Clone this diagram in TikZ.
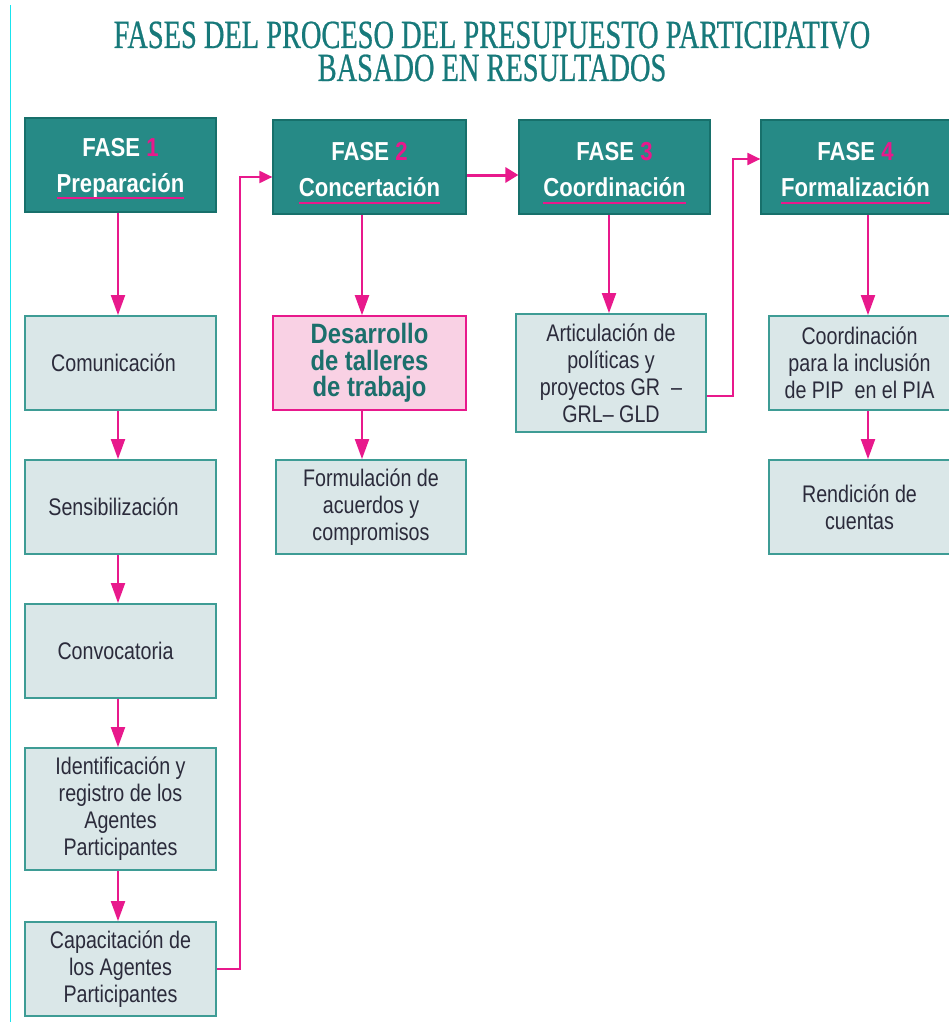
\documentclass[tikz,border=0pt]{standalone}
\usepackage{fontspec}
\setmainfont{Liberation Sans}
\newfontfamily\narrowfont[FakeStretch=0.82]{Liberation Sans}
\newfontfamily\headfont[FakeStretch=0.85]{Liberation Sans}
\newfontfamily\titlefont[FakeStretch=0.71,FakeBold=0.6]{Liberation Serif}
\usetikzlibrary{arrows.meta}
\definecolor{tealfill}{HTML}{268A86}
\definecolor{tealdark}{HTML}{17706B}
\definecolor{titleteal}{HTML}{17797A}
\definecolor{pinkc}{HTML}{E8198C}
\definecolor{lightbox}{HTML}{DAE7E8}
\definecolor{lightborder}{HTML}{3E9C95}
\definecolor{pinkfill}{HTML}{F9D1E4}
\definecolor{boxtext}{HTML}{2B2B3B}
\definecolor{desartext}{HTML}{1C6F6C}
\definecolor{cyanline}{HTML}{19E3EE}
\newcommand\pinkul[1]{\setbox0\hbox{#1}\leavevmode\rlap{\copy0}\smash{\raisebox{-7pt}{\textcolor{pinkc}{\rule{\wd0}{2pt}}}}}
\tikzset{
  phasebox/.style={draw=tealdark, line width=1.2pt, fill=tealfill, text=white,
    align=center, inner sep=0pt,
    font=\headfont\bfseries\fontsize{26}{36}\selectfont},
  lightnode/.style={draw=lightborder, line width=1.8pt, fill=lightbox, text=boxtext,
    align=center, inner sep=0pt,
    font=\narrowfont\fontsize{24}{27}\selectfont},
  pinknode/.style={draw=pinkc, line width=1.6pt, fill=pinkfill, text=desartext,
    align=center, inner sep=0pt,
    font=\headfont\bfseries\fontsize{28}{26.5}\selectfont},
  titletext/.style={font=\titlefont\fontsize{40}{40}\selectfont, text=titleteal,
    anchor=base, inner sep=0pt, text height=26pt, text depth=0pt},
  conn/.style={draw=pinkc, line width=2pt, -{Triangle[length=20pt,width=14pt]}},
  connsmall/.style={draw=pinkc, line width=2pt, -{Triangle[length=13pt,width=12pt]}},
  connthick/.style={draw=pinkc, line width=3pt, -{Triangle[length=13pt,width=15pt]}}
}
\begin{document}
\begin{tikzpicture}[x=1pt,y=-1pt]
\useasboundingbox (0,0) rectangle (948,1022);
\draw[cyanline, line width=1pt] (10.5,5) -- (10.5,1022);
% title
\node[titletext] (title1) at (492,48) {FASES DEL PROCESO DEL PRESUPUESTO PARTICIPATIVO};
\node[titletext] (title2) at (492,81) {BASADO EN RESULTADOS};
% phase headers
\node[phasebox, minimum width=191pt, minimum height=94pt] (f1) at (120.5,165)
  {\rule{0pt}{24pt}FASE \textcolor{pinkc}{1}\\\pinkul{Preparación}};
\node[phasebox, minimum width=193pt, minimum height=94pt] (f2) at (369.5,167)
  {\rule{0pt}{24pt}FASE \textcolor{pinkc}{2}\\\pinkul{Concertación}};
\node[phasebox, minimum width=191pt, minimum height=94pt] (f3) at (614.5,167)
  {\rule{0pt}{24pt}FASE \textcolor{pinkc}{3}\\\pinkul{Coordinación}};
\node[phasebox, minimum width=189pt, minimum height=94pt] (f4) at (855.5,167)
  {\rule{0pt}{24pt}FASE \textcolor{pinkc}{4}\\\pinkul{Formalización}};
% column 1
\node[lightnode, minimum width=191pt, minimum height=94pt] (c1) at (120.5,363) {Comunicación\hspace{14pt}};
\node[lightnode, minimum width=191pt, minimum height=94pt] (c2) at (120.5,507) {Sensibilización\hspace{14pt}};
\node[lightnode, minimum width=191pt, minimum height=94pt] (c3) at (120.5,651) {Convocatoria\hspace{10pt}};
\node[lightnode, minimum width=191pt, minimum height=122pt] (c4) at (120.5,809)
  {Identificación y\\registro de los\\Agentes\\Participantes};
\node[lightnode, minimum width=191pt, minimum height=94pt] (c5) at (120.5,969)
  {Capacitación de\\los Agentes\\Participantes};
% column 2
\node[pinknode, minimum width=193pt, minimum height=94pt] (d2) at (369.5,363)
  {Desarrollo\\de talleres\\de trabajo};
\node[lightnode, minimum width=190pt, minimum height=94pt] (fo) at (371,507)
  {Formulación de\\acuerdos y\\compromisos};
% column 3
\node[lightnode, minimum width=190pt, minimum height=118pt] (ar) at (611,373)
  {Articulación de\\políticas y\\proyectos GR \ –\\GRL– GLD};
% column 4
\node[lightnode, minimum width=181pt, minimum height=94pt] (co) at (859.5,363)
  {Coordinación\\para la inclusión\\de PIP \ en el PIA};
\node[lightnode, minimum width=181pt, minimum height=94pt] (re) at (859.5,507)
  {Rendición de\\cuentas};
% connector x-positions
\coordinate (x1) at (118,0);
\coordinate (x2) at (362,0);
\coordinate (x3) at (609,0);
\coordinate (x4) at (868,0);
\coordinate (j1) at (240,177);
\coordinate (j3) at (733,159);
% column 1 arrows
\draw[conn] (f1.south -| x1) -- (c1.north -| x1);
\draw[conn] (c1.south -| x1) -- (c2.north -| x1);
\draw[conn] (c2.south -| x1) -- (c3.north -| x1);
\draw[conn] (c3.south -| x1) -- (c4.north -| x1);
\draw[conn] (c4.south -| x1) -- (c5.north -| x1);
% column 2 arrows
\draw[conn] (f2.south -| x2) -- (d2.north -| x2);
\draw[conn] (d2.south -| x2) -- (fo.north -| x2);
% column 3, 4
\draw[conn] (f3.south -| x3) -- (ar.north -| x3);
\draw[conn] (f4.south -| x4) -- (co.north -| x4);
\draw[conn] (co.south -| x4) -- (re.north -| x4);
% cross links
\draw[connsmall] (c5.east |- 0,969) -| (j1) -- (f2.west |- j1);
\draw[connthick] (f2.east |- 0,175) -- (f3.west |- 0,175);
\draw[connsmall] (ar.east |- 0,396) -| (j3) -- (f4.west |- j3);
\end{tikzpicture}
\end{document}
